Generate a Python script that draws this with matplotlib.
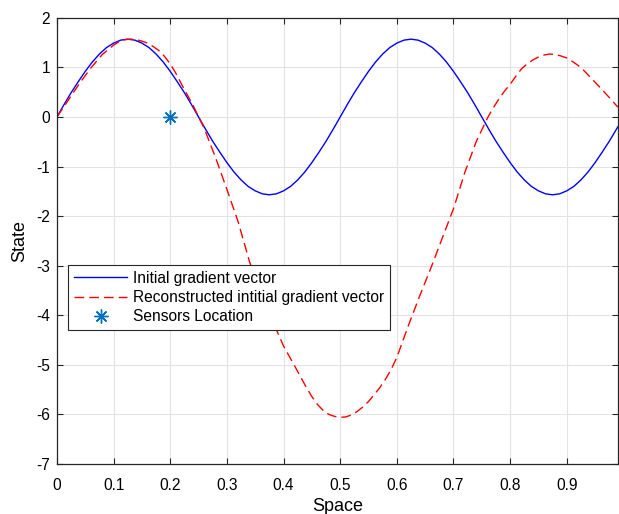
import numpy as np
from matplotlib import pyplot as plt

# initial gradient vector, sampled every 0.0125 (plus the last point at 0.99)
space_init = np.append(np.arange(80) * 0.0125, 0.99)
state_init = [0, 0.25, 0.49, 0.71, 0.92, 1.11, 1.27, 1.40, 1.49, 1.55,
              1.57, 1.55, 1.49, 1.40, 1.27, 1.11, 0.92, 0.71, 0.49, 0.25,
              0, -0.25, -0.49, -0.71, -0.92, -1.11, -1.27, -1.40, -1.49, -1.55,
              -1.57, -1.55, -1.49, -1.40, -1.27, -1.11, -0.92, -0.71, -0.49, -0.25,
              0, 0.25, 0.49, 0.71, 0.92, 1.11, 1.27, 1.40, 1.49, 1.55,
              1.57, 1.55, 1.49, 1.40, 1.27, 1.11, 0.92, 0.71, 0.49, 0.25,
              0, -0.25, -0.49, -0.71, -0.92, -1.11, -1.27, -1.40, -1.49, -1.55,
              -1.57, -1.55, -1.49, -1.40, -1.27, -1.11, -0.92, -0.71, -0.49, -0.25,
              -0.20]

# reconstructed vector
space_rec = [0.00, 0.02, 0.04, 0.06, 0.08, 0.10, 0.11, 0.12, 0.13, 0.14,
             0.15, 0.16, 0.17, 0.18, 0.19, 0.20, 0.21, 0.22, 0.23, 0.24,
             0.26, 0.28, 0.30, 0.32, 0.34, 0.36, 0.38, 0.40, 0.42, 0.44,
             0.45, 0.46, 0.47, 0.48, 0.49, 0.50, 0.51, 0.52, 0.53, 0.54,
             0.55, 0.56, 0.57, 0.58, 0.59, 0.60, 0.62, 0.64, 0.66, 0.68,
             0.70, 0.72, 0.74, 0.76, 0.77, 0.78, 0.79, 0.80, 0.81, 0.82,
             0.83, 0.84, 0.85, 0.86, 0.87, 0.88, 0.89, 0.90, 0.91, 0.92,
             0.93, 0.94, 0.96, 0.98, 0.99]
state_rec = [0.00, 0.34, 0.68, 0.99, 1.26, 1.45, 1.52, 1.56, 1.57, 1.56,
             1.53, 1.49, 1.42, 1.34, 1.22, 1.07, 0.88, 0.66, 0.45, 0.24,
             -0.23, -0.82, -1.46, -2.12, -2.92, -3.55, -4.10, -4.62, -5.03, -5.45,
             -5.64, -5.80, -5.92, -6.00, -6.04, -6.06, -6.05, -6.01, -5.94, -5.85,
             -5.74, -5.60, -5.46, -5.29, -5.09, -4.85, -4.22, -3.62, -3.05, -2.45,
             -1.85, -1.12, -0.50, -0.02, 0.18, 0.36, 0.52, 0.66, 0.82, 0.97,
             1.07, 1.15, 1.21, 1.25, 1.27, 1.26, 1.23, 1.19, 1.12, 1.04,
             0.94, 0.82, 0.58, 0.33, 0.20]

sensor_x = [0.2]
sensor_y = [0]

plt.rcParams['font.family'] = ['Liberation Sans', 'DejaVu Sans']
plt.rcParams['axes.unicode_minus'] = False

fig = plt.figure(figsize=(6.19, 5.14), dpi=100)
ax = fig.add_axes([0.092, 0.0973, 0.906, 0.868])

ax.plot(space_init, state_init, color='#0000ff', lw=1.0, label='Initial gradient vector')
ax.plot(space_rec, state_rec, color='#ff0000', lw=1.0, dashes=(7, 3.6),
        label='Reconstructed intitial gradient vector')
ax.plot(sensor_x, sensor_y, ls='none', marker=(8, 2, 0), ms=10, mew=1.0,
        color='#0072BD', label='Sensors Location')

ax.set_xlim(0, 0.99)
ax.set_ylim(-7, 2)
ax.set_xticks(np.arange(0, 1.0, 0.1))
ax.set_xticklabels(['0', '0.1', '0.2', '0.3', '0.4', '0.5', '0.6', '0.7', '0.8', '0.9'])
ax.set_yticks(np.arange(-7, 3, 1))
ax.grid(True, color='#e3e3e3', lw=0.8)
ax.set_axisbelow(True)
ax.tick_params(direction='in', length=4, width=0.8, top=True, right=True,
               labelsize=11.2, colors='#262626', labelcolor='black')
ax.tick_params(axis='x', pad=10)
ax.tick_params(axis='y', pad=5)
for s in ax.spines.values():
    s.set_color('#262626')
    s.set_linewidth(0.9)

ax.set_xlabel('Space', fontsize=13, labelpad=3.5)
ax.set_ylabel('State', fontsize=13, labelpad=6)

leg = ax.legend(loc='upper left', bbox_to_anchor=(0.020, 0.446), fontsize=11.2,
                frameon=True, fancybox=False, framealpha=1, edgecolor='#262626',
                handlelength=3.4, handletextpad=0.37, borderpad=0.38,
                labelspacing=0.27, borderaxespad=0, handleheight=0.7)
leg.get_frame().set_linewidth(0.8)

fig.savefig('out.png', dpi=100)
